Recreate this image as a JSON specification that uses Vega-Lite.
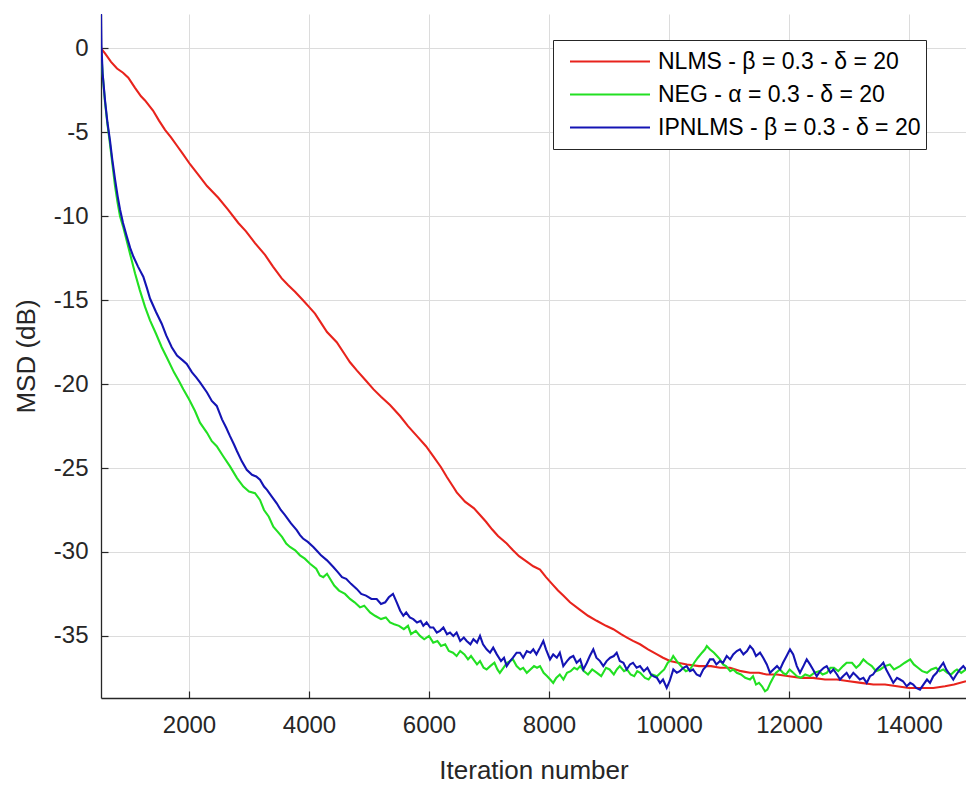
{
"$schema": "https://vega.github.io/schema/vega-lite/v6.json",
"width": 865, "height": 684,
"autosize": {"type": "none"},
"padding": {"left": 101, "top": 14, "right": 0, "bottom": 87},
"background": "white",
"config": {"view": {"stroke": null}, "font": "Liberation Sans"},
"data": {"values": [
{"alg":"NLMS","it":533,"msd":0.0},{"alg":"NLMS","it":600,"msd":-0.3},{"alg":"NLMS","it":700,"msd":-0.8},{"alg":"NLMS","it":800,"msd":-1.2},{"alg":"NLMS","it":900,"msd":-1.45},{"alg":"NLMS","it":988,"msd":-1.75},{"alg":"NLMS","it":1100,"msd":-2.35},{"alg":"NLMS","it":1200,"msd":-2.85},{"alg":"NLMS","it":1267,"msd":-3.1},{"alg":"NLMS","it":1400,"msd":-3.7},{"alg":"NLMS","it":1500,"msd":-4.3},{"alg":"NLMS","it":1600,"msd":-4.85},{"alg":"NLMS","it":1700,"msd":-5.3},{"alg":"NLMS","it":1800,"msd":-5.8},{"alg":"NLMS","it":1900,"msd":-6.3},{"alg":"NLMS","it":2017,"msd":-6.9},{"alg":"NLMS","it":2150,"msd":-7.5},{"alg":"NLMS","it":2300,"msd":-8.2},{"alg":"NLMS","it":2488,"msd":-8.9},{"alg":"NLMS","it":2650,"msd":-9.6},{"alg":"NLMS","it":2822,"msd":-10.4},{"alg":"NLMS","it":2950,"msd":-10.9},{"alg":"NLMS","it":3100,"msd":-11.6},{"alg":"NLMS","it":3267,"msd":-12.3},{"alg":"NLMS","it":3400,"msd":-13.0},{"alg":"NLMS","it":3545,"msd":-13.7},{"alg":"NLMS","it":3650,"msd":-14.1},{"alg":"NLMS","it":3767,"msd":-14.5},{"alg":"NLMS","it":3900,"msd":-15.0},{"alg":"NLMS","it":4000,"msd":-15.4},{"alg":"NLMS","it":4100,"msd":-15.8},{"alg":"NLMS","it":4200,"msd":-16.35},{"alg":"NLMS","it":4300,"msd":-16.9},{"alg":"NLMS","it":4462,"msd":-17.5},{"alg":"NLMS","it":4600,"msd":-18.25},{"alg":"NLMS","it":4683,"msd":-18.7},{"alg":"NLMS","it":4800,"msd":-19.2},{"alg":"NLMS","it":4950,"msd":-19.8},{"alg":"NLMS","it":5072,"msd":-20.3},{"alg":"NLMS","it":5200,"msd":-20.75},{"alg":"NLMS","it":5350,"msd":-21.25},{"alg":"NLMS","it":5517,"msd":-21.9},{"alg":"NLMS","it":5650,"msd":-22.5},{"alg":"NLMS","it":5800,"msd":-23.1},{"alg":"NLMS","it":5950,"msd":-23.7},{"alg":"NLMS","it":6072,"msd":-24.3},{"alg":"NLMS","it":6200,"msd":-24.95},{"alg":"NLMS","it":6300,"msd":-25.55},{"alg":"NLMS","it":6400,"msd":-26.1},{"alg":"NLMS","it":6462,"msd":-26.45},{"alg":"NLMS","it":6600,"msd":-27.0},{"alg":"NLMS","it":6750,"msd":-27.4},{"alg":"NLMS","it":6850,"msd":-27.8},{"alg":"NLMS","it":6950,"msd":-28.2},{"alg":"NLMS","it":7050,"msd":-28.65},{"alg":"NLMS","it":7150,"msd":-29.05},{"alg":"NLMS","it":7295,"msd":-29.5},{"alg":"NLMS","it":7400,"msd":-29.9},{"alg":"NLMS","it":7500,"msd":-30.25},{"alg":"NLMS","it":7600,"msd":-30.5},{"alg":"NLMS","it":7738,"msd":-30.85},{"alg":"NLMS","it":7850,"msd":-31.05},{"alg":"NLMS","it":7950,"msd":-31.5},{"alg":"NLMS","it":8050,"msd":-31.9},{"alg":"NLMS","it":8150,"msd":-32.3},{"alg":"NLMS","it":8238,"msd":-32.6},{"alg":"NLMS","it":8350,"msd":-33.0},{"alg":"NLMS","it":8500,"msd":-33.4},{"alg":"NLMS","it":8650,"msd":-33.8},{"alg":"NLMS","it":8795,"msd":-34.1},{"alg":"NLMS","it":8950,"msd":-34.4},{"alg":"NLMS","it":9072,"msd":-34.6},{"alg":"NLMS","it":9200,"msd":-34.9},{"alg":"NLMS","it":9300,"msd":-35.1},{"alg":"NLMS","it":9400,"msd":-35.3},{"alg":"NLMS","it":9517,"msd":-35.5},{"alg":"NLMS","it":9650,"msd":-35.8},{"alg":"NLMS","it":9800,"msd":-36.1},{"alg":"NLMS","it":9900,"msd":-36.3},{"alg":"NLMS","it":10017,"msd":-36.5},{"alg":"NLMS","it":10150,"msd":-36.6},{"alg":"NLMS","it":10300,"msd":-36.7},{"alg":"NLMS","it":10500,"msd":-36.8},{"alg":"NLMS","it":10700,"msd":-36.8},{"alg":"NLMS","it":10850,"msd":-36.9},{"alg":"NLMS","it":11017,"msd":-36.9},{"alg":"NLMS","it":11200,"msd":-37.1},{"alg":"NLMS","it":11350,"msd":-37.2},{"alg":"NLMS","it":11500,"msd":-37.2},{"alg":"NLMS","it":11628,"msd":-37.3},{"alg":"NLMS","it":11800,"msd":-37.3},{"alg":"NLMS","it":12000,"msd":-37.4},{"alg":"NLMS","it":12200,"msd":-37.5},{"alg":"NLMS","it":12400,"msd":-37.5},{"alg":"NLMS","it":12600,"msd":-37.6},{"alg":"NLMS","it":12800,"msd":-37.6},{"alg":"NLMS","it":13000,"msd":-37.7},{"alg":"NLMS","it":13200,"msd":-37.8},{"alg":"NLMS","it":13405,"msd":-37.9},{"alg":"NLMS","it":13600,"msd":-37.9},{"alg":"NLMS","it":13800,"msd":-38.0},{"alg":"NLMS","it":14000,"msd":-38.1},{"alg":"NLMS","it":14200,"msd":-38.1},{"alg":"NLMS","it":14405,"msd":-38.1},{"alg":"NLMS","it":14600,"msd":-38.0},{"alg":"NLMS","it":14750,"msd":-37.9},{"alg":"NLMS","it":14950,"msd":-37.7},
{"alg":"NEG","it":520,"msd":0.4},{"alg":"NEG","it":533,"msd":0.0},{"alg":"NEG","it":560,"msd":-1.5},{"alg":"NEG","it":600,"msd":-3.2},{"alg":"NEG","it":640,"msd":-4.5},{"alg":"NEG","it":683,"msd":-5.7},{"alg":"NEG","it":720,"msd":-6.8},{"alg":"NEG","it":767,"msd":-8.2},{"alg":"NEG","it":810,"msd":-9.2},{"alg":"NEG","it":850,"msd":-10.0},{"alg":"NEG","it":900,"msd":-10.6},{"alg":"NEG","it":950,"msd":-11.3},{"alg":"NEG","it":1000,"msd":-12.0},{"alg":"NEG","it":1050,"msd":-12.7},{"alg":"NEG","it":1100,"msd":-13.4},{"alg":"NEG","it":1180,"msd":-14.4},{"alg":"NEG","it":1267,"msd":-15.4},{"alg":"NEG","it":1350,"msd":-16.2},{"alg":"NEG","it":1450,"msd":-17.0},{"alg":"NEG","it":1545,"msd":-17.8},{"alg":"NEG","it":1628,"msd":-18.4},{"alg":"NEG","it":1750,"msd":-19.3},{"alg":"NEG","it":1830,"msd":-19.8},{"alg":"NEG","it":1905,"msd":-20.3},{"alg":"NEG","it":2000,"msd":-20.9},{"alg":"NEG","it":2100,"msd":-21.6},{"alg":"NEG","it":2183,"msd":-22.3},{"alg":"NEG","it":2300,"msd":-22.9},{"alg":"NEG","it":2380,"msd":-23.4},{"alg":"NEG","it":2462,"msd":-23.7},{"alg":"NEG","it":2570,"msd":-24.3},{"alg":"NEG","it":2683,"msd":-24.9},{"alg":"NEG","it":2800,"msd":-25.6},{"alg":"NEG","it":2905,"msd":-26.1},{"alg":"NEG","it":3000,"msd":-26.4},{"alg":"NEG","it":3100,"msd":-26.5},{"alg":"NEG","it":3183,"msd":-26.9},{"alg":"NEG","it":3250,"msd":-27.5},{"alg":"NEG","it":3330,"msd":-27.9},{"alg":"NEG","it":3405,"msd":-28.5},{"alg":"NEG","it":3480,"msd":-28.8},{"alg":"NEG","it":3550,"msd":-29.1},{"alg":"NEG","it":3620,"msd":-29.5},{"alg":"NEG","it":3683,"msd":-29.7},{"alg":"NEG","it":3770,"msd":-29.9},{"alg":"NEG","it":3850,"msd":-30.2},{"alg":"NEG","it":3930,"msd":-30.4},{"alg":"NEG","it":4017,"msd":-30.7},{"alg":"NEG","it":4120,"msd":-31.0},{"alg":"NEG","it":4180,"msd":-31.4},{"alg":"NEG","it":4238,"msd":-31.5},{"alg":"NEG","it":4300,"msd":-31.3},{"alg":"NEG","it":4350,"msd":-31.6},{"alg":"NEG","it":4420,"msd":-32.0},{"alg":"NEG","it":4500,"msd":-32.3},{"alg":"NEG","it":4600,"msd":-32.5},{"alg":"NEG","it":4683,"msd":-32.8},{"alg":"NEG","it":4760,"msd":-33.0},{"alg":"NEG","it":4850,"msd":-33.3},{"alg":"NEG","it":4920,"msd":-33.2},{"alg":"NEG","it":5017,"msd":-33.6},{"alg":"NEG","it":5100,"msd":-33.8},{"alg":"NEG","it":5200,"msd":-34.0},{"alg":"NEG","it":5280,"msd":-33.9},{"alg":"NEG","it":5350,"msd":-34.2},{"alg":"NEG","it":5420,"msd":-34.3},{"alg":"NEG","it":5500,"msd":-34.4},{"alg":"NEG","it":5580,"msd":-34.6},{"alg":"NEG","it":5650,"msd":-34.4},{"alg":"NEG","it":5700,"msd":-34.9},{"alg":"NEG","it":5780,"msd":-34.7},{"alg":"NEG","it":5850,"msd":-35.0},{"alg":"NEG","it":5920,"msd":-35.2},{"alg":"NEG","it":6000,"msd":-35.0},{"alg":"NEG","it":6070,"msd":-35.4},{"alg":"NEG","it":6140,"msd":-35.3},{"alg":"NEG","it":6200,"msd":-35.6},{"alg":"NEG","it":6270,"msd":-35.5},{"alg":"NEG","it":6330,"msd":-35.9},{"alg":"NEG","it":6400,"msd":-36.0},{"alg":"NEG","it":6460,"msd":-36.2},{"alg":"NEG","it":6520,"msd":-35.9},{"alg":"NEG","it":6590,"msd":-36.1},{"alg":"NEG","it":6650,"msd":-36.4},{"alg":"NEG","it":6700,"msd":-36.2},{"alg":"NEG","it":6740,"msd":-36.4},{"alg":"NEG","it":6800,"msd":-36.7},{"alg":"NEG","it":6850,"msd":-36.5},{"alg":"NEG","it":6910,"msd":-36.9},{"alg":"NEG","it":6960,"msd":-37.0},{"alg":"NEG","it":7020,"msd":-36.8},{"alg":"NEG","it":7090,"msd":-36.6},{"alg":"NEG","it":7140,"msd":-37.0},{"alg":"NEG","it":7180,"msd":-37.2},{"alg":"NEG","it":7240,"msd":-36.9},{"alg":"NEG","it":7300,"msd":-36.6},{"alg":"NEG","it":7350,"msd":-36.5},{"alg":"NEG","it":7400,"msd":-36.4},{"alg":"NEG","it":7460,"msd":-36.8},{"alg":"NEG","it":7520,"msd":-37.0},{"alg":"NEG","it":7570,"msd":-36.9},{"alg":"NEG","it":7630,"msd":-37.2},{"alg":"NEG","it":7690,"msd":-37.0},{"alg":"NEG","it":7750,"msd":-36.8},{"alg":"NEG","it":7800,"msd":-36.9},{"alg":"NEG","it":7850,"msd":-36.8},{"alg":"NEG","it":7910,"msd":-37.2},{"alg":"NEG","it":7970,"msd":-37.4},{"alg":"NEG","it":8020,"msd":-37.6},{"alg":"NEG","it":8070,"msd":-37.8},{"alg":"NEG","it":8120,"msd":-37.5},{"alg":"NEG","it":8180,"msd":-37.3},{"alg":"NEG","it":8240,"msd":-37.6},{"alg":"NEG","it":8300,"msd":-37.2},{"alg":"NEG","it":8360,"msd":-37.1},{"alg":"NEG","it":8420,"msd":-36.9},{"alg":"NEG","it":8470,"msd":-37.0},{"alg":"NEG","it":8520,"msd":-36.8},{"alg":"NEG","it":8580,"msd":-37.1},{"alg":"NEG","it":8650,"msd":-37.3},{"alg":"NEG","it":8720,"msd":-37.0},{"alg":"NEG","it":8800,"msd":-37.2},{"alg":"NEG","it":8870,"msd":-37.4},{"alg":"NEG","it":8950,"msd":-36.9},{"alg":"NEG","it":9010,"msd":-37.0},{"alg":"NEG","it":9080,"msd":-37.3},{"alg":"NEG","it":9130,"msd":-37.0},{"alg":"NEG","it":9180,"msd":-36.8},{"alg":"NEG","it":9250,"msd":-37.1},{"alg":"NEG","it":9300,"msd":-37.0},{"alg":"NEG","it":9360,"msd":-37.3},{"alg":"NEG","it":9420,"msd":-37.4},{"alg":"NEG","it":9470,"msd":-37.1},{"alg":"NEG","it":9520,"msd":-37.2},{"alg":"NEG","it":9600,"msd":-37.5},{"alg":"NEG","it":9660,"msd":-37.6},{"alg":"NEG","it":9720,"msd":-37.3},{"alg":"NEG","it":9800,"msd":-37.4},{"alg":"NEG","it":9860,"msd":-37.2},{"alg":"NEG","it":9920,"msd":-37.0},{"alg":"NEG","it":9980,"msd":-36.6},{"alg":"NEG","it":10040,"msd":-36.4},{"alg":"NEG","it":10070,"msd":-36.2},{"alg":"NEG","it":10130,"msd":-36.5},{"alg":"NEG","it":10200,"msd":-36.8},{"alg":"NEG","it":10280,"msd":-37.1},{"alg":"NEG","it":10350,"msd":-37.0},{"alg":"NEG","it":10420,"msd":-36.6},{"alg":"NEG","it":10480,"msd":-36.3},{"alg":"NEG","it":10550,"msd":-36.0},{"alg":"NEG","it":10600,"msd":-35.8},{"alg":"NEG","it":10630,"msd":-35.6},{"alg":"NEG","it":10680,"msd":-35.8},{"alg":"NEG","it":10750,"msd":-36.0},{"alg":"NEG","it":10800,"msd":-36.2},{"alg":"NEG","it":10850,"msd":-36.4},{"alg":"NEG","it":10900,"msd":-36.7},{"alg":"NEG","it":10950,"msd":-36.8},{"alg":"NEG","it":11020,"msd":-37.1},{"alg":"NEG","it":11070,"msd":-37.0},{"alg":"NEG","it":11130,"msd":-37.2},{"alg":"NEG","it":11200,"msd":-37.3},{"alg":"NEG","it":11270,"msd":-37.5},{"alg":"NEG","it":11350,"msd":-37.6},{"alg":"NEG","it":11400,"msd":-37.4},{"alg":"NEG","it":11450,"msd":-37.9},{"alg":"NEG","it":11500,"msd":-37.8},{"alg":"NEG","it":11550,"msd":-38.0},{"alg":"NEG","it":11600,"msd":-38.3},{"alg":"NEG","it":11640,"msd":-38.2},{"alg":"NEG","it":11690,"msd":-37.8},{"alg":"NEG","it":11720,"msd":-37.6},{"alg":"NEG","it":11780,"msd":-37.2},{"alg":"NEG","it":11850,"msd":-37.0},{"alg":"NEG","it":11900,"msd":-37.2},{"alg":"NEG","it":11950,"msd":-37.3},{"alg":"NEG","it":12010,"msd":-37.0},{"alg":"NEG","it":12070,"msd":-37.2},{"alg":"NEG","it":12130,"msd":-37.4},{"alg":"NEG","it":12200,"msd":-37.5},{"alg":"NEG","it":12270,"msd":-37.3},{"alg":"NEG","it":12350,"msd":-37.4},{"alg":"NEG","it":12420,"msd":-37.2},{"alg":"NEG","it":12500,"msd":-37.1},{"alg":"NEG","it":12560,"msd":-37.3},{"alg":"NEG","it":12630,"msd":-37.2},{"alg":"NEG","it":12690,"msd":-36.9},{"alg":"NEG","it":12750,"msd":-36.9},{"alg":"NEG","it":12820,"msd":-37.1},{"alg":"NEG","it":12900,"msd":-36.8},{"alg":"NEG","it":12960,"msd":-36.6},{"alg":"NEG","it":13050,"msd":-36.6},{"alg":"NEG","it":13120,"msd":-36.9},{"alg":"NEG","it":13180,"msd":-36.7},{"alg":"NEG","it":13240,"msd":-36.4},{"alg":"NEG","it":13300,"msd":-36.6},{"alg":"NEG","it":13380,"msd":-36.8},{"alg":"NEG","it":13450,"msd":-37.1},{"alg":"NEG","it":13520,"msd":-37.0},{"alg":"NEG","it":13600,"msd":-36.8},{"alg":"NEG","it":13680,"msd":-36.7},{"alg":"NEG","it":13750,"msd":-37.0},{"alg":"NEG","it":13850,"msd":-36.8},{"alg":"NEG","it":13930,"msd":-36.6},{"alg":"NEG","it":14020,"msd":-36.4},{"alg":"NEG","it":14080,"msd":-36.7},{"alg":"NEG","it":14150,"msd":-36.9},{"alg":"NEG","it":14220,"msd":-37.1},{"alg":"NEG","it":14300,"msd":-37.2},{"alg":"NEG","it":14370,"msd":-37.0},{"alg":"NEG","it":14450,"msd":-36.9},{"alg":"NEG","it":14510,"msd":-37.1},{"alg":"NEG","it":14570,"msd":-37.0},{"alg":"NEG","it":14640,"msd":-37.2},{"alg":"NEG","it":14700,"msd":-37.3},{"alg":"NEG","it":14760,"msd":-37.1},{"alg":"NEG","it":14800,"msd":-37.0},{"alg":"NEG","it":14870,"msd":-37.2},{"alg":"NEG","it":14950,"msd":-37.0},
{"alg":"IPNLMS","it":533,"msd":2.1},{"alg":"IPNLMS","it":540,"msd":0.2},{"alg":"IPNLMS","it":560,"msd":-1.5},{"alg":"IPNLMS","it":600,"msd":-3.1},{"alg":"IPNLMS","it":640,"msd":-4.4},{"alg":"IPNLMS","it":683,"msd":-5.5},{"alg":"IPNLMS","it":720,"msd":-6.6},{"alg":"IPNLMS","it":767,"msd":-7.8},{"alg":"IPNLMS","it":810,"msd":-8.8},{"alg":"IPNLMS","it":850,"msd":-9.6},{"alg":"IPNLMS","it":900,"msd":-10.4},{"alg":"IPNLMS","it":962,"msd":-11.2},{"alg":"IPNLMS","it":1020,"msd":-11.9},{"alg":"IPNLMS","it":1072,"msd":-12.4},{"alg":"IPNLMS","it":1150,"msd":-13.0},{"alg":"IPNLMS","it":1238,"msd":-13.6},{"alg":"IPNLMS","it":1300,"msd":-14.3},{"alg":"IPNLMS","it":1350,"msd":-14.9},{"alg":"IPNLMS","it":1450,"msd":-15.7},{"alg":"IPNLMS","it":1545,"msd":-16.4},{"alg":"IPNLMS","it":1620,"msd":-17.1},{"alg":"IPNLMS","it":1712,"msd":-17.8},{"alg":"IPNLMS","it":1800,"msd":-18.3},{"alg":"IPNLMS","it":1900,"msd":-18.6},{"alg":"IPNLMS","it":1962,"msd":-18.8},{"alg":"IPNLMS","it":2050,"msd":-19.3},{"alg":"IPNLMS","it":2120,"msd":-19.6},{"alg":"IPNLMS","it":2183,"msd":-19.9},{"alg":"IPNLMS","it":2300,"msd":-20.5},{"alg":"IPNLMS","it":2380,"msd":-21.0},{"alg":"IPNLMS","it":2462,"msd":-21.3},{"alg":"IPNLMS","it":2550,"msd":-22.1},{"alg":"IPNLMS","it":2620,"msd":-22.6},{"alg":"IPNLMS","it":2683,"msd":-23.1},{"alg":"IPNLMS","it":2750,"msd":-23.6},{"alg":"IPNLMS","it":2800,"msd":-24.0},{"alg":"IPNLMS","it":2880,"msd":-24.6},{"alg":"IPNLMS","it":2962,"msd":-25.1},{"alg":"IPNLMS","it":3050,"msd":-25.4},{"alg":"IPNLMS","it":3120,"msd":-25.5},{"alg":"IPNLMS","it":3183,"msd":-25.7},{"alg":"IPNLMS","it":3250,"msd":-26.1},{"alg":"IPNLMS","it":3300,"msd":-26.3},{"alg":"IPNLMS","it":3380,"msd":-26.7},{"alg":"IPNLMS","it":3462,"msd":-27.1},{"alg":"IPNLMS","it":3530,"msd":-27.5},{"alg":"IPNLMS","it":3600,"msd":-27.8},{"alg":"IPNLMS","it":3700,"msd":-28.3},{"alg":"IPNLMS","it":3795,"msd":-28.7},{"alg":"IPNLMS","it":3850,"msd":-29.0},{"alg":"IPNLMS","it":3900,"msd":-29.2},{"alg":"IPNLMS","it":3980,"msd":-29.4},{"alg":"IPNLMS","it":4072,"msd":-29.7},{"alg":"IPNLMS","it":4150,"msd":-30.0},{"alg":"IPNLMS","it":4200,"msd":-30.2},{"alg":"IPNLMS","it":4300,"msd":-30.5},{"alg":"IPNLMS","it":4405,"msd":-30.9},{"alg":"IPNLMS","it":4480,"msd":-31.2},{"alg":"IPNLMS","it":4550,"msd":-31.5},{"alg":"IPNLMS","it":4620,"msd":-31.6},{"alg":"IPNLMS","it":4700,"msd":-31.9},{"alg":"IPNLMS","it":4795,"msd":-32.2},{"alg":"IPNLMS","it":4870,"msd":-32.5},{"alg":"IPNLMS","it":4950,"msd":-32.6},{"alg":"IPNLMS","it":5040,"msd":-32.8},{"alg":"IPNLMS","it":5128,"msd":-32.8},{"alg":"IPNLMS","it":5200,"msd":-33.1},{"alg":"IPNLMS","it":5270,"msd":-33.0},{"alg":"IPNLMS","it":5330,"msd":-32.7},{"alg":"IPNLMS","it":5400,"msd":-32.5},{"alg":"IPNLMS","it":5462,"msd":-33.0},{"alg":"IPNLMS","it":5520,"msd":-33.5},{"alg":"IPNLMS","it":5572,"msd":-33.8},{"alg":"IPNLMS","it":5620,"msd":-33.6},{"alg":"IPNLMS","it":5680,"msd":-33.9},{"alg":"IPNLMS","it":5738,"msd":-34.0},{"alg":"IPNLMS","it":5800,"msd":-34.2},{"alg":"IPNLMS","it":5860,"msd":-34.1},{"alg":"IPNLMS","it":5905,"msd":-34.4},{"alg":"IPNLMS","it":5960,"msd":-34.2},{"alg":"IPNLMS","it":6020,"msd":-34.5},{"alg":"IPNLMS","it":6072,"msd":-34.5},{"alg":"IPNLMS","it":6130,"msd":-34.8},{"alg":"IPNLMS","it":6183,"msd":-34.7},{"alg":"IPNLMS","it":6240,"msd":-34.5},{"alg":"IPNLMS","it":6300,"msd":-34.9},{"alg":"IPNLMS","it":6350,"msd":-34.8},{"alg":"IPNLMS","it":6405,"msd":-35.0},{"alg":"IPNLMS","it":6460,"msd":-34.8},{"alg":"IPNLMS","it":6520,"msd":-35.3},{"alg":"IPNLMS","it":6580,"msd":-35.1},{"alg":"IPNLMS","it":6628,"msd":-35.3},{"alg":"IPNLMS","it":6690,"msd":-35.5},{"alg":"IPNLMS","it":6740,"msd":-35.2},{"alg":"IPNLMS","it":6800,"msd":-35.4},{"alg":"IPNLMS","it":6850,"msd":-35.0},{"alg":"IPNLMS","it":6900,"msd":-35.5},{"alg":"IPNLMS","it":6960,"msd":-35.8},{"alg":"IPNLMS","it":7017,"msd":-36.0},{"alg":"IPNLMS","it":7070,"msd":-35.7},{"alg":"IPNLMS","it":7130,"msd":-36.1},{"alg":"IPNLMS","it":7200,"msd":-36.5},{"alg":"IPNLMS","it":7250,"msd":-36.3},{"alg":"IPNLMS","it":7295,"msd":-36.8},{"alg":"IPNLMS","it":7350,"msd":-36.5},{"alg":"IPNLMS","it":7400,"msd":-36.3},{"alg":"IPNLMS","it":7460,"msd":-36.0},{"alg":"IPNLMS","it":7517,"msd":-36.0},{"alg":"IPNLMS","it":7570,"msd":-36.3},{"alg":"IPNLMS","it":7630,"msd":-35.9},{"alg":"IPNLMS","it":7690,"msd":-36.0},{"alg":"IPNLMS","it":7738,"msd":-35.8},{"alg":"IPNLMS","it":7790,"msd":-36.1},{"alg":"IPNLMS","it":7850,"msd":-35.7},{"alg":"IPNLMS","it":7905,"msd":-35.3},{"alg":"IPNLMS","it":7950,"msd":-35.8},{"alg":"IPNLMS","it":8017,"msd":-36.4},{"alg":"IPNLMS","it":8070,"msd":-36.1},{"alg":"IPNLMS","it":8130,"msd":-36.3},{"alg":"IPNLMS","it":8180,"msd":-36.0},{"alg":"IPNLMS","it":8238,"msd":-36.8},{"alg":"IPNLMS","it":8300,"msd":-36.5},{"alg":"IPNLMS","it":8350,"msd":-36.3},{"alg":"IPNLMS","it":8405,"msd":-36.2},{"alg":"IPNLMS","it":8460,"msd":-36.6},{"alg":"IPNLMS","it":8520,"msd":-36.4},{"alg":"IPNLMS","it":8572,"msd":-37.0},{"alg":"IPNLMS","it":8630,"msd":-36.6},{"alg":"IPNLMS","it":8680,"msd":-36.2},{"alg":"IPNLMS","it":8738,"msd":-35.8},{"alg":"IPNLMS","it":8790,"msd":-36.3},{"alg":"IPNLMS","it":8850,"msd":-36.5},{"alg":"IPNLMS","it":8905,"msd":-36.8},{"alg":"IPNLMS","it":8960,"msd":-36.5},{"alg":"IPNLMS","it":9020,"msd":-36.3},{"alg":"IPNLMS","it":9080,"msd":-36.2},{"alg":"IPNLMS","it":9128,"msd":-36.0},{"alg":"IPNLMS","it":9180,"msd":-36.5},{"alg":"IPNLMS","it":9240,"msd":-36.6},{"alg":"IPNLMS","it":9295,"msd":-37.0},{"alg":"IPNLMS","it":9350,"msd":-36.7},{"alg":"IPNLMS","it":9400,"msd":-36.6},{"alg":"IPNLMS","it":9460,"msd":-36.9},{"alg":"IPNLMS","it":9517,"msd":-36.8},{"alg":"IPNLMS","it":9580,"msd":-37.1},{"alg":"IPNLMS","it":9640,"msd":-36.9},{"alg":"IPNLMS","it":9700,"msd":-37.3},{"alg":"IPNLMS","it":9738,"msd":-37.4},{"alg":"IPNLMS","it":9800,"msd":-37.5},{"alg":"IPNLMS","it":9850,"msd":-37.8},{"alg":"IPNLMS","it":9900,"msd":-37.6},{"alg":"IPNLMS","it":9962,"msd":-38.1},{"alg":"IPNLMS","it":10010,"msd":-37.7},{"alg":"IPNLMS","it":10072,"msd":-37.0},{"alg":"IPNLMS","it":10130,"msd":-37.2},{"alg":"IPNLMS","it":10180,"msd":-37.1},{"alg":"IPNLMS","it":10240,"msd":-36.9},{"alg":"IPNLMS","it":10295,"msd":-36.8},{"alg":"IPNLMS","it":10350,"msd":-37.1},{"alg":"IPNLMS","it":10400,"msd":-37.0},{"alg":"IPNLMS","it":10460,"msd":-37.3},{"alg":"IPNLMS","it":10517,"msd":-37.4},{"alg":"IPNLMS","it":10570,"msd":-37.0},{"alg":"IPNLMS","it":10620,"msd":-36.8},{"alg":"IPNLMS","it":10683,"msd":-36.4},{"alg":"IPNLMS","it":10738,"msd":-36.4},{"alg":"IPNLMS","it":10790,"msd":-36.7},{"alg":"IPNLMS","it":10850,"msd":-36.5},{"alg":"IPNLMS","it":10900,"msd":-36.6},{"alg":"IPNLMS","it":10962,"msd":-36.2},{"alg":"IPNLMS","it":11020,"msd":-36.4},{"alg":"IPNLMS","it":11070,"msd":-36.1},{"alg":"IPNLMS","it":11130,"msd":-35.9},{"alg":"IPNLMS","it":11183,"msd":-35.8},{"alg":"IPNLMS","it":11240,"msd":-36.1},{"alg":"IPNLMS","it":11300,"msd":-35.9},{"alg":"IPNLMS","it":11350,"msd":-35.6},{"alg":"IPNLMS","it":11400,"msd":-35.8},{"alg":"IPNLMS","it":11450,"msd":-36.2},{"alg":"IPNLMS","it":11517,"msd":-36.0},{"alg":"IPNLMS","it":11570,"msd":-36.3},{"alg":"IPNLMS","it":11630,"msd":-36.7},{"alg":"IPNLMS","it":11683,"msd":-37.2},{"alg":"IPNLMS","it":11740,"msd":-37.0},{"alg":"IPNLMS","it":11800,"msd":-36.8},{"alg":"IPNLMS","it":11850,"msd":-37.0},{"alg":"IPNLMS","it":11900,"msd":-36.6},{"alg":"IPNLMS","it":11960,"msd":-36.2},{"alg":"IPNLMS","it":12017,"msd":-35.8},{"alg":"IPNLMS","it":12070,"msd":-36.1},{"alg":"IPNLMS","it":12130,"msd":-36.8},{"alg":"IPNLMS","it":12183,"msd":-37.2},{"alg":"IPNLMS","it":12240,"msd":-36.8},{"alg":"IPNLMS","it":12295,"msd":-36.4},{"alg":"IPNLMS","it":12350,"msd":-36.7},{"alg":"IPNLMS","it":12400,"msd":-37.0},{"alg":"IPNLMS","it":12462,"msd":-37.4},{"alg":"IPNLMS","it":12520,"msd":-37.1},{"alg":"IPNLMS","it":12580,"msd":-36.9},{"alg":"IPNLMS","it":12628,"msd":-36.8},{"alg":"IPNLMS","it":12690,"msd":-37.2},{"alg":"IPNLMS","it":12740,"msd":-37.0},{"alg":"IPNLMS","it":12800,"msd":-37.3},{"alg":"IPNLMS","it":12850,"msd":-37.6},{"alg":"IPNLMS","it":12900,"msd":-37.4},{"alg":"IPNLMS","it":12960,"msd":-37.2},{"alg":"IPNLMS","it":13010,"msd":-37.5},{"alg":"IPNLMS","it":13072,"msd":-37.2},{"alg":"IPNLMS","it":13130,"msd":-37.4},{"alg":"IPNLMS","it":13180,"msd":-37.6},{"alg":"IPNLMS","it":13240,"msd":-37.5},{"alg":"IPNLMS","it":13295,"msd":-37.8},{"alg":"IPNLMS","it":13350,"msd":-37.4},{"alg":"IPNLMS","it":13400,"msd":-37.3},{"alg":"IPNLMS","it":13460,"msd":-37.0},{"alg":"IPNLMS","it":13520,"msd":-36.8},{"alg":"IPNLMS","it":13572,"msd":-36.6},{"alg":"IPNLMS","it":13620,"msd":-37.0},{"alg":"IPNLMS","it":13680,"msd":-37.4},{"alg":"IPNLMS","it":13738,"msd":-37.8},{"alg":"IPNLMS","it":13800,"msd":-37.5},{"alg":"IPNLMS","it":13850,"msd":-37.6},{"alg":"IPNLMS","it":13900,"msd":-37.7},{"alg":"IPNLMS","it":13962,"msd":-38.0},{"alg":"IPNLMS","it":14020,"msd":-37.8},{"alg":"IPNLMS","it":14070,"msd":-37.9},{"alg":"IPNLMS","it":14120,"msd":-38.1},{"alg":"IPNLMS","it":14183,"msd":-38.2},{"alg":"IPNLMS","it":14240,"msd":-37.9},{"alg":"IPNLMS","it":14300,"msd":-37.6},{"alg":"IPNLMS","it":14350,"msd":-37.8},{"alg":"IPNLMS","it":14405,"msd":-37.4},{"alg":"IPNLMS","it":14460,"msd":-37.2},{"alg":"IPNLMS","it":14510,"msd":-36.9},{"alg":"IPNLMS","it":14572,"msd":-36.6},{"alg":"IPNLMS","it":14620,"msd":-37.0},{"alg":"IPNLMS","it":14680,"msd":-37.3},{"alg":"IPNLMS","it":14738,"msd":-37.6},{"alg":"IPNLMS","it":14790,"msd":-37.3},{"alg":"IPNLMS","it":14850,"msd":-37.0},{"alg":"IPNLMS","it":14905,"msd":-36.8},{"alg":"IPNLMS","it":14950,"msd":-37.0}
]},
"mark": {"type": "line", "clip": true, "strokeWidth": 2.1},
"encoding": {
"x": {"field": "it", "type": "quantitative", "scale": {"domain": [533, 14950], "nice": false, "zero": false},
 "axis": {"title": "Iteration number", "values": [2000,4000,6000,8000,10000,12000,14000], "format": "d", "grid": true, "gridColor": "#dcdcdc", "gridWidth": 1, "domainColor": "#262626", "domainWidth": 1.3, "tickColor": "#262626", "tickSize": -7, "tickWidth": 1.2, "labelPadding": 22, "labelFont": "Liberation Sans", "labelFontSize": 24, "labelColor": "#262626", "titleFont": "Liberation Sans", "titleFontSize": 26, "titleFontWeight": "normal", "titleColor": "#262626", "titleY": 59, "titleBaseline": "top"}},
"y": {"field": "msd", "type": "quantitative", "scale": {"domain": [-38.7, 2.05], "nice": false, "zero": false},
 "axis": {"title": "MSD (dB)", "values": [-35,-30,-25,-20,-15,-10,-5,0], "labelExpr": "toString(datum.value)", "grid": true, "gridColor": "#dcdcdc", "gridWidth": 1, "domainColor": "#262626", "domainWidth": 1.3, "tickColor": "#262626", "tickSize": -7, "tickWidth": 1.2, "labelPadding": 20, "labelFont": "Liberation Sans", "labelFontSize": 24, "labelColor": "#262626", "titleFont": "Liberation Sans", "titleFontSize": 26, "titleFontWeight": "normal", "titleColor": "#262626", "titleX": -67, "titleBaseline": "alphabetic"}},
"color": {"field": "alg", "type": "nominal", "scale": {"domain": ["NLMS", "NEG", "IPNLMS"], "range": ["#e8231c", "#22e022", "#1414b4"]},
 "legend": {"title": null, "orient": "none", "legendX": 452, "legendY": 26, "direction": "vertical", "symbolType": "stroke", "symbolSize": 6400, "symbolStrokeWidth": 2, "clipHeight": 33, "rowPadding": 0, "padding": 5, "symbolOffset": 11, "labelOffset": 7, "labelFont": "Liberation Sans", "labelFontSize": 23, "labelColor": "black", "labelLimit": 0, "strokeColor": "#262626", "fillColor": "white", "cornerRadius": 0,
  "labelExpr": "datum.label == 'NLMS' ? 'NLMS - β = 0.3 - δ = 20' : datum.label == 'NEG' ? 'NEG - α = 0.3 - δ = 20' : 'IPNLMS - β = 0.3 - δ = 20'"}}
}
}
